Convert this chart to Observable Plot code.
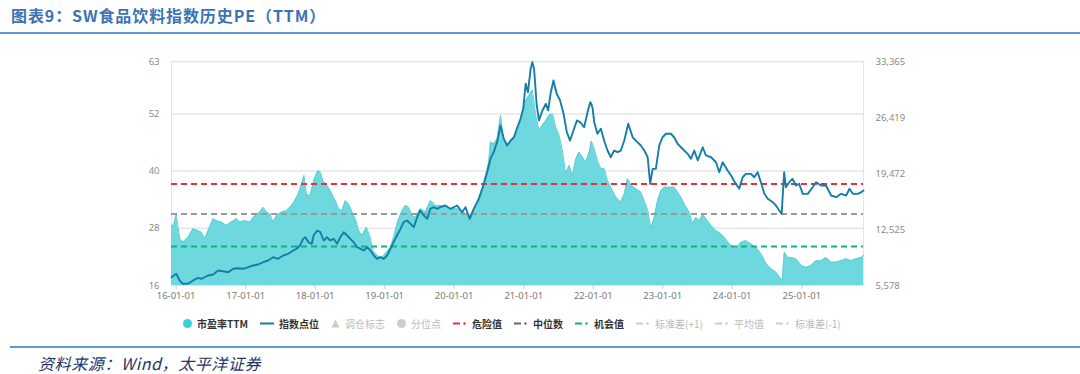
<!DOCTYPE html>
<html>
<head>
<meta charset="utf-8">
<script src="https://cdn.jsdelivr.net/npm/d3@7"></script>
<script src="https://cdn.jsdelivr.net/npm/@observablehq/plot@0.6"></script>
<style>
  html, body { margin: 0; padding: 0; background: #fff; }
  #wrap { position: relative; width: 1080px; height: 374px; overflow: hidden; background: #fff; }
  #title { position: absolute; left: 11px; top: 3px; font-family: "Noto Sans CJK SC", sans-serif; font-size: 16px; font-weight: 700; color: #3b72b4; letter-spacing: 0.9px; white-space: nowrap; }
  .bar { position: absolute; height: 2px; background: #5b9bd5; }
  #chart { position: absolute; left: 0; top: 40px; }
  #legend { position: absolute; left: 183px; top: 316px; display: flex; align-items: center; gap: 12px; font-family: "Noto Sans CJK SC", sans-serif; font-size: 10px; white-space: nowrap; }
  .item { display: flex; align-items: center; gap: 5px; }
  #source { position: absolute; left: 38px; top: 351px; font-family: "Noto Sans CJK SC", sans-serif; font-size: 16px; font-style: italic; color: #22356b; letter-spacing: 0.6px; white-space: nowrap; }
</style>
</head>
<body>
<div id="wrap">
  <div id="title">图表9：SW食品饮料指数历史PE（TTM）</div>
  <div class="bar" style="left:0;top:32px;width:1080px;"></div>
  <div id="chart"></div>
  <div id="legend"></div>
  <div class="bar" style="left:10px;top:346px;width:1070px;"></div>
  <div id="source">资料来源：Wind，太平洋证券</div>
</div>
<script>
// ---- PE (TTM), left axis ----
const peDates = [
"2015-12-08","2015-12-20","2016-01-02","2016-01-12","2016-01-20","2016-02-06","2016-03-04","2016-03-30","2016-04-25","2016-05-13","2016-05-31","2016-06-17","2016-07-14","2016-07-31","2016-08-26","2016-09-22","2016-10-18","2016-11-13","2016-12-01","2016-12-28",
"2017-01-23","2017-02-18","2017-03-16","2017-04-03","2017-04-20","2017-05-08","2017-05-25","2017-06-12","2017-07-08","2017-08-03","2017-08-30","2017-09-16","2017-10-04","2017-10-21","2017-11-03","2017-11-16","2017-12-05","2017-12-24",
"2018-01-14","2018-01-28","2018-02-11","2018-02-23","2018-03-12","2018-03-30","2018-04-17","2018-05-04","2018-05-22","2018-06-08","2018-06-26","2018-07-14","2018-07-31","2018-08-18","2018-09-04","2018-09-27","2018-10-14","2018-11-01","2018-11-22","2018-12-18",
"2019-01-05","2019-01-31","2019-02-17","2019-03-10","2019-04-02","2019-04-20","2019-05-07","2019-05-25","2019-06-11","2019-07-07","2019-08-03","2019-08-29","2019-09-24","2019-10-21","2019-11-16","2019-12-12",
"2020-01-17","2020-02-20","2020-03-18","2020-04-05","2020-05-01","2020-05-28","2020-06-14","2020-07-01","2020-07-10","2020-07-27","2020-08-14","2020-09-01","2020-09-15","2020-10-03","2020-10-24","2020-11-19","2020-12-06","2020-12-24",
"2021-01-11","2021-01-29","2021-02-15","2021-03-05","2021-03-22","2021-04-09","2021-04-27","2021-05-14","2021-06-01","2021-06-18","2021-07-06","2021-07-24","2021-08-10","2021-08-27","2021-09-14","2021-10-02","2021-10-19","2021-11-06","2021-11-23","2021-12-11","2021-12-22",
"2022-01-06","2022-01-23","2022-02-10","2022-02-27","2022-03-17","2022-04-03","2022-04-30","2022-05-26","2022-06-13","2022-06-30","2022-07-18","2022-08-13","2022-09-08","2022-09-26","2022-10-17","2022-10-31","2022-11-17","2022-12-05","2022-12-23",
"2023-01-09","2023-02-04","2023-03-02","2023-03-20","2023-04-07","2023-04-24","2023-05-20","2023-06-07","2023-06-25","2023-07-12","2023-07-30","2023-08-16","2023-09-12","2023-10-08","2023-11-03","2023-11-21","2023-12-17",
"2024-01-05","2024-01-21","2024-02-16","2024-03-13","2024-04-09","2024-05-05","2024-05-31","2024-06-27","2024-07-23","2024-08-18","2024-09-13","2024-09-20","2024-10-01","2024-10-18","2024-11-05","2024-12-01","2024-12-29",
"2025-01-23","2025-02-18","2025-03-17","2025-04-12","2025-05-08","2025-06-04","2025-06-30","2025-07-26","2025-08-22","2025-09-17","2025-10-13","2025-11-09","2025-11-21"
];
const peValues = [
28.5,28.8,31.0,28.0,25.9,25.1,26.1,27.9,27.5,27.2,25.8,27.5,30.0,29.6,29.3,28.6,29.3,30.0,29.3,29.6,
29.3,30.7,31.4,32.4,31.4,31.0,29.3,30.7,31.4,31.7,32.8,33.8,35.2,37.3,39.1,35.2,34.8,38.0,
40.1,39.8,38.0,37.3,36.6,35.2,33.8,32.1,31.7,33.8,33.1,31.4,30.0,27.5,26.5,28.2,26.5,23.3,22.3,21.9,
22.7,24.0,26.1,29.3,31.7,32.8,32.4,30.7,30.3,32.1,31.4,33.8,32.8,32.8,32.8,32.1,
32.1,31.4,30.3,31.4,33.5,36.3,39.1,41.9,46.1,45.7,46.8,51.7,46.8,45.4,46.4,47.5,49.2,51.7,
54.8,55.9,57.0,51.7,48.5,49.6,50.6,51.7,52.0,49.2,47.5,44.0,39.4,41.2,39.1,42.6,44.0,42.9,41.9,44.0,46.3,
44.7,42.2,40.5,40.5,38.0,36.6,34.5,33.5,35.2,38.4,37.0,36.3,35.6,33.8,31.4,27.9,30.3,33.8,35.9,
36.6,36.6,36.6,35.6,34.5,33.1,31.4,29.0,30.3,29.6,31.0,30.0,28.6,27.5,26.8,26.1,24.7,
24.2,23.7,25.1,25.4,24.7,24.0,22.7,20.6,19.5,18.8,17.4,17.0,23.0,21.9,21.9,21.6,20.2,
19.8,20.2,21.2,21.2,21.9,20.9,20.9,21.2,21.6,21.2,21.6,21.9,22.3
];

// ---- Index level, right axis ----
const idxDates = [
"2015-12-08","2016-01-02","2016-01-20","2016-02-06","2016-03-04","2016-03-30","2016-04-25","2016-05-13","2016-06-17","2016-07-14","2016-08-09","2016-09-04","2016-10-01","2016-10-27","2016-11-22","2016-12-18",
"2017-01-14","2017-02-09","2017-03-07","2017-04-03","2017-04-29","2017-05-25","2017-06-20","2017-07-17","2017-08-12","2017-09-07","2017-09-25","2017-10-13","2017-10-30","2017-11-11","2017-11-26","2017-12-14","2017-12-24",
"2018-01-11","2018-01-28","2018-02-14","2018-03-04","2018-03-21","2018-04-08","2018-04-26","2018-05-13","2018-05-31","2018-06-18","2018-07-05","2018-07-22","2018-08-09","2018-08-27","2018-09-13","2018-10-01","2018-10-18","2018-11-05","2018-11-22","2018-12-10","2018-12-27",
"2019-01-14","2019-01-31","2019-02-17","2019-03-07","2019-03-25","2019-04-11","2019-04-29","2019-05-17","2019-06-03","2019-06-21","2019-07-07","2019-07-26","2019-08-13","2019-08-29","2019-09-16","2019-10-04","2019-10-21","2019-11-16","2019-12-12",
"2020-01-17","2020-02-12","2020-03-01","2020-03-23","2020-04-13","2020-05-10","2020-06-05","2020-06-23","2020-07-10","2020-07-27","2020-08-14","2020-09-01","2020-09-18","2020-10-06","2020-10-24","2020-11-10","2020-11-28","2020-12-15","2020-12-29",
"2021-01-11","2021-01-23","2021-02-06","2021-02-15","2021-02-24","2021-03-10","2021-03-22","2021-04-09","2021-04-27","2021-05-09","2021-05-23","2021-06-06","2021-06-23","2021-07-11","2021-07-29","2021-08-15","2021-09-01","2021-09-19","2021-10-07","2021-10-24","2021-11-14","2021-12-02","2021-12-16","2021-12-22","2021-12-29",
"2022-01-06","2022-01-23","2022-02-10","2022-02-27","2022-03-17","2022-04-03","2022-04-21","2022-05-09","2022-05-26","2022-06-13","2022-07-04","2022-07-27","2022-08-13","2022-09-08","2022-09-26","2022-10-14","2022-10-27","2022-11-09","2022-11-26","2022-12-14","2022-12-31",
"2023-01-18","2023-02-13","2023-03-02","2023-03-20","2023-04-07","2023-04-24","2023-05-12","2023-05-29","2023-06-16","2023-07-04","2023-07-30","2023-08-16","2023-09-12","2023-10-08","2023-10-25","2023-11-12","2023-12-08","2023-12-26",
"2024-01-15","2024-02-07","2024-02-25","2024-03-13","2024-04-09","2024-04-26","2024-05-14","2024-05-31","2024-06-18","2024-07-06","2024-08-01","2024-08-18","2024-09-04","2024-09-17","2024-09-30","2024-10-09","2024-10-27","2024-11-13","2024-12-01","2024-12-18",
"2025-01-06","2025-02-01","2025-02-27","2025-03-17","2025-04-12","2025-05-08","2025-06-04","2025-06-30","2025-07-26","2025-08-22","2025-09-08","2025-09-26","2025-10-22","2025-11-09","2025-11-21"
];
const idxValues = [
6608,7029,6198,5788,5788,6198,6530,6409,6818,6943,7439,7352,7228,7650,7724,7650,
7848,8058,8182,8468,8679,9088,8889,9299,9510,9919,10130,10540,11370,11570,10950,10750,11780,
12400,12190,11160,11570,11160,11370,10750,11570,12190,11780,11370,10950,10330,10130,9919,10330,9919,9299,8889,9088,8889,
9299,10130,10950,11780,12610,13430,13640,13230,12810,14050,14880,14260,13850,15090,15290,15090,15290,15500,15090,
15500,14670,15290,13850,15090,16330,18190,19630,21300,22120,23360,25430,23780,22950,23570,23970,25210,26260,27500,
30600,29560,32460,33280,32460,27910,26050,27290,28120,27290,29560,31010,29360,28530,26880,24600,23560,24810,26050,25840,25210,27080,28320,28120,27500,
25840,24400,25020,23560,22320,21490,22320,22120,22320,23560,25640,23970,23560,22950,22320,21490,18190,20050,20050,22950,23970,
24400,24400,23970,23160,22730,22320,21910,21300,22320,21090,22730,21710,21490,20870,19630,20870,19840,19220,
18390,17570,19010,19430,19430,19010,19630,18390,16950,16330,15910,15500,14880,14470,19630,17770,18390,18810,17980,18190,
16950,16950,17770,18390,17980,17980,16740,16530,16950,16740,17570,16950,16950,17160,17360
];

// ---- axes & reference lines ----
const peTicks = [16, 28, 40, 52, 63];
const idxTicks = [5578, 12525, 19472, 26419, 33365];
const yearTicks = ["2016-01-01","2017-01-01","2018-01-01","2019-01-01","2020-01-01","2021-01-01","2022-01-01","2023-01-01","2024-01-01","2025-01-01"];
const xStart = "2015-12-08", xEnd = "2025-11-21";
const dangerValue = 37.3, medianValue = 31.0, chanceValue = 24.2;

// ---- legend ----
const legendLabels = ["市盈率TTM","指数点位","调仓标志","分位点","危险值","中位数","机会值","标准差(+1)","平均值","标准差(-1)"];
const legendTypes  = ["dot","line","tri","dot","dash","dash","dash","dash","dash","dash"];
const legendColors = ["#3ccfd8","#137fa8","#cccccc","#cccccc","#e8303a","#666666","#12b27c","#cccccc","#cccccc","#cccccc"];
const legendActive = [true,true,false,false,true,true,true,false,false,false];

const parse = s => new Date(s + "T00:00:00Z");
const peRows = peDates.map((d, i) => ({date: parse(d), pe: peValues[i]}));
const idxRows = idxDates.map((d, i) => ({date: parse(d), idx: idxValues[i]}));
const toPE = d3.scaleLinear().domain([idxTicks[0], idxTicks[idxTicks.length - 1]]).range([peTicks[0], peTicks[peTicks.length - 1]]);
const idxLabel = new Map(idxTicks.map(v => [toPE(v), d3.format(",")(v)]));

const chart = Plot.plot({
  width: 1080,
  height: 270,
  marginLeft: 171,
  marginRight: 217,
  marginTop: 21,
  marginBottom: 25,
  x: {type: "utc", domain: [parse(xStart), parse(xEnd)]},
  y: {domain: [peTicks[0], peTicks[peTicks.length - 1]]},
  style: {fontFamily: "'Noto Sans', sans-serif", fontSize: "9.5px", color: "#8a8a8a", background: "transparent"},
  marks: [
    Plot.ruleY(peTicks, {stroke: "#e6e6e6", strokeWidth: 1.5}),
    Plot.frame({stroke: "#dce6ee"}),
    Plot.areaY(peRows, {x: "date", y1: peTicks[0], y2: "pe", fill: "#6dd8de"}),
    Plot.lineY(peRows, {x: "date", y: "pe", stroke: "#5ccfd6", strokeWidth: 1}),
    Plot.ruleY([dangerValue], {stroke: "#e8303a", strokeWidth: 2, strokeDasharray: "6,4"}),
    Plot.ruleY([medianValue], {stroke: "#999999", strokeWidth: 2, strokeDasharray: "6,4"}),
    Plot.ruleY([chanceValue], {stroke: "#12b27c", strokeWidth: 2, strokeDasharray: "6,4"}),
    Plot.lineY(idxRows, {x: "date", y: d => toPE(d.idx), stroke: "#137fa8", strokeWidth: 1.9}),
    Plot.axisY(peTicks, {anchor: "left", tickSize: 0, tickPadding: 12, label: null, fill: "#8a8a8a"}),
    Plot.axisY(idxTicks.map(toPE), {anchor: "right", tickSize: 0, tickPadding: 12, label: null, fill: "#8a8a8a", tickFormat: d => idxLabel.get(d)}),
    Plot.axisX(yearTicks.map(parse), {tickSize: 4, tickPadding: 3, label: null, stroke: "#cfcfcf", fill: "#7a7a7a", tickFormat: d3.utcFormat("%y-%m-%d")})
  ]
});
document.getElementById("chart").appendChild(chart);

// legend
const leg = document.getElementById("legend");
legendLabels.forEach((lab, i) => {
  const item = document.createElement("div");
  item.className = "item";
  const c = legendColors[i];
  let svg;
  if (legendTypes[i] === "dot") svg = `<svg width="9" height="9"><circle cx="4.5" cy="4.5" r="4.5" fill="${c}"/></svg>`;
  else if (legendTypes[i] === "line") svg = `<svg width="14" height="9"><line x1="0" x2="14" y1="4.5" y2="4.5" stroke="${c}" stroke-width="2"/></svg>`;
  else if (legendTypes[i] === "tri") svg = `<svg width="9" height="9"><path d="M4.5 0.5 L8.5 8.5 L0.5 8.5 Z" fill="${c}"/></svg>`;
  else svg = `<svg width="14" height="9"><line x1="0" x2="7" y1="4.5" y2="4.5" stroke="${c}" stroke-width="2"/><circle cx="11.5" cy="4.5" r="1.2" fill="${c}"/></svg>`;
  item.innerHTML = svg + `<span style="color:${legendActive[i] ? "#333" : "#bbb"};font-weight:${legendActive[i] ? 700 : 400}">${lab}</span>`;
  leg.appendChild(item);
});
</script>
</body>
</html>
